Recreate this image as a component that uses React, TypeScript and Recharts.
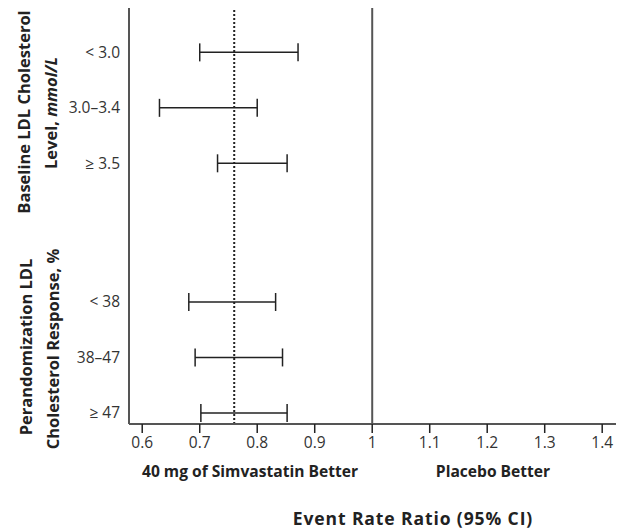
import React from "react";
import {
  ScatterChart,
  Scatter,
  XAxis,
  YAxis,
  ErrorBar,
  ReferenceLine,
} from "recharts";

const groups = [
  { title: ["Baseline LDL Cholesterol", "Level, "], italic: "mmol/L" },
  { title: ["Perandomization LDL", "Cholesterol Response, %"], italic: "" },
];

const rowLabels = ["< 3.0", "3.0\u20133.4", "\u2265 3.5", "< 38", "38\u201347", "\u2265 47"];
const rowGroup = [0, 0, 0, 1, 1, 1];
const lowerCI = [0.7, 0.63, 0.731, 0.681, 0.692, 0.702];
const upperCI = [0.871, 0.8, 0.852, 0.832, 0.844, 0.852];

const overallRatio = 0.76;
const xTicks = [0.6, 0.7, 0.8, 0.9, 1.0, 1.1, 1.2, 1.3, 1.4];

const GAP = 1.5; // extra spacing between the two groups

const rows = rowLabels.map((label, i) => {
  const mid = (lowerCI[i] + upperCI[i]) / 2;
  return {
    label,
    pos: i + rowGroup[i] * GAP,
    mid,
    err: [mid - lowerCI[i], upperCI[i] - mid],
  };
});

const labelByPos: Record<string, string> = {};
rows.forEach((r) => (labelByPos[String(r.pos)] = r.label));

const FONT = "'Open Sans', sans-serif";
const INK = "#333";
const AXIS = "#555";

const NoDot = () => <g />;

const App = () => {
  return (
    <div style={{ position: "absolute", left: 0, top: 0, width: 628, height: 530, background: "#fff" }}>
      <ScatterChart
        width={628}
        height={530}
        margin={{ top: 8, right: 12, left: 0, bottom: 76 }}
      >
        <XAxis
          type="number"
          dataKey="mid"
          domain={[0.577, 1.424]}
          ticks={xTicks}
          allowDataOverflow
          tickFormatter={(v: number) => (v === 1 ? "1" : v.toFixed(1))}
          axisLine={{ stroke: AXIS, strokeWidth: 2 }}
          tickLine={{ stroke: "#222", strokeWidth: 1.5 }}
          tickSize={9}
          tickMargin={4}
          height={30}
          tick={{ fontSize: 15.5, fill: INK, fontFamily: FONT }}
        />
        <YAxis
          type="number"
          dataKey="pos"
          domain={[-0.8, 6.7]}
          reversed
          ticks={rows.map((r) => r.pos)}
          tickFormatter={(v: number) => labelByPos[String(v)] ?? ""}
          axisLine={{ stroke: AXIS, strokeWidth: 2 }}
          tickLine={false}
          tickSize={0}
          tickMargin={9}
          width={129}
          tick={{ fontSize: 15.5, fill: INK, fontFamily: FONT }}
        />
        <ReferenceLine x={1} stroke={AXIS} strokeWidth={2} />
        <ReferenceLine
          x={overallRatio}
          stroke="#222"
          strokeWidth={2}
          strokeDasharray="2 2"
        />
        <Scatter data={rows} shape={<NoDot />} isAnimationActive={false}>
          <ErrorBar
            dataKey="err"
            direction="x"
            width={9}
            stroke="#222"
            strokeWidth={1.5}
            isAnimationActive={false}
          />
        </Scatter>
      </ScatterChart>
      <svg
        width={628}
        height={530}
        style={{ position: "absolute", left: 0, top: 0, pointerEvents: "none" }}
      >
        <g fontFamily={FONT} fontWeight="bold" fill="#222">
          <g fontSize={16.5}>
            <text transform="translate(23,112) rotate(-90)" textAnchor="middle" dominantBaseline="central">
              {groups[0].title[0]}
            </text>
            <text transform="translate(50,113) rotate(-90)" textAnchor="middle" dominantBaseline="central">
              {groups[0].title[1]}
              <tspan fontStyle="italic">{groups[0].italic}</tspan>
            </text>
            <text transform="translate(25,347) rotate(-90)" textAnchor="middle" dominantBaseline="central">
              {groups[1].title[0]}
            </text>
            <text transform="translate(52,349) rotate(-90)" textAnchor="middle" dominantBaseline="central">
              {groups[1].title[1]}
            </text>
          </g>
          <g fontSize={15.6}>
            <text x={250} y={477} textAnchor="middle">40 mg of Simvastatin Better</text>
            <text x={493} y={477} textAnchor="middle">Placebo Better</text>
          </g>
          <text x={413} y={525} textAnchor="middle" fontSize={17.5} letterSpacing={0.9}>
            Event Rate Ratio (95% CI)
          </text>
        </g>
      </svg>
    </div>
  );
};

export default App;
